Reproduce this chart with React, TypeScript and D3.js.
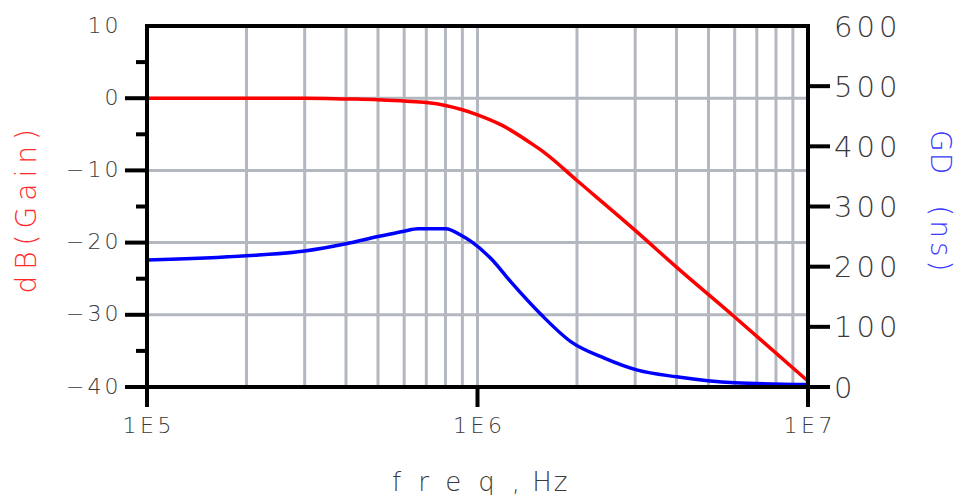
import React from "react";
import * as d3 from "d3";

// ---- data ----
const gainFreq = [1e5, 2e5, 3e5, 4e5, 5e5, 6e5, 7e5, 8e5, 9e5, 1e6, 1.18e6, 1.48e6, 1.59e6, 2e6, 3e6, 4e6, 6e6, 1e7];
const gainDb = [0, 0, 0, -0.1, -0.2, -0.4, -0.6, -1.0, -1.6, -2.3, -3.7, -6.5, -7.5, -11.4, -18.3, -23.4, -30.3, -39.2];
const gdFreq = [1e5, 2e5, 3e5, 4e5, 5e5, 6e5, 6.6e5, 8e5, 9e5, 9.56e5, 1.1e6, 1.26e6, 1.56e6, 1.92e6, 2.42e6, 3.05e6, 4e6, 6e6, 1e7];
const gdNs = [211, 218, 226, 238, 250, 259, 263, 263, 251, 242, 213, 175, 120, 75, 48, 28, 17, 7, 4];

const xTickValues = [1e5, 1e6, 1e7];
const xTickLabels = ["1E5", "1E6", "1E7"];
const leftTicks = [10, 0, -10, -20, -30, -40];
const leftMinorTicks = [5, -5, -15, -25, -35];
const rightTicks = [600, 500, 400, 300, 200, 100, 0];

const W = 957;
const H = 495;
const X0 = 147, X1 = 808, Y0 = 26, Y1 = 387;

const fmtLeft = (v: number) => (v < 0 ? "\u2212" + Math.abs(v) : String(v));

export default function App() {
  const x = d3.scaleLog().domain([1e5, 1e7]).range([X0, X1]);
  const yL = d3.scaleLinear().domain([-40, 10]).range([Y1, Y0]);
  const yR = d3.scaleLinear().domain([0, 600]).range([Y1, Y0]);

  const gridX: number[] = [];
  for (let dec = 1e5; dec < 1e7; dec *= 10) {
    for (let m = 2; m <= 10; m++) gridX.push(dec * m);
  }
  const gridX2 = gridX.filter((f) => f < 1e7 * 0.999);
  const gridY = [0, -10, -20, -30];

  const gainLine = d3
    .line<number>()
    .x((_, i) => x(gainFreq[i]))
    .y((d) => yL(d))
    .curve(d3.curveMonotoneX);
  const gdLine = d3
    .line<number>()
    .x((_, i) => x(gdFreq[i]))
    .y((d) => yR(d))
    .curve(d3.curveMonotoneX);

  const tickFont = "'DejaVu Sans', sans-serif";
  const tickFill = "#3a3a3a";
  const gridColor = "#b3b7bf";

  return (
    <svg
      width={W}
      height={H}
      style={{ position: "absolute", left: 0, top: 0, background: "#fff" }}
    >
      <rect x={0} y={0} width={W} height={H} fill="#fff" />
      {/* grid */}
      {gridX2.map((f) => (
        <line key={"gx" + f} x1={x(f)} x2={x(f)} y1={Y0} y2={Y1} stroke={gridColor} strokeWidth={3} />
      ))}
      {gridY.map((v) => (
        <line key={"gy" + v} x1={X0} x2={X1} y1={yL(v)} y2={yL(v)} stroke={gridColor} strokeWidth={3} />
      ))}

      {/* curves */}
      <path d={gdLine(gdNs) || ""} fill="none" stroke="#0000ff" strokeWidth={3.5} />
      <path d={gainLine(gainDb) || ""} fill="none" stroke="#ff0000" strokeWidth={3.5} />

      {/* frame */}
      <rect x={X0} y={Y0} width={X1 - X0} height={Y1 - Y0} fill="none" stroke="#000" strokeWidth={4} />

      {/* left ticks */}
      {leftTicks
        .filter((v) => v !== 10)
        .map((v) => (
          <line key={"lt" + v} x1={X0 - 22} x2={X0} y1={yL(v)} y2={yL(v)} stroke="#000" strokeWidth={4} />
        ))}
      {leftMinorTicks.map((v) => (
        <line key={"lm" + v} x1={X0 - 11} x2={X0} y1={yL(v)} y2={yL(v)} stroke="#000" strokeWidth={4} />
      ))}
      {leftTicks.map((v) => (
        <text
          key={"ll" + v}
          x={121.5}
          y={yL(v) + 6.5}
          textAnchor="end"
          fontFamily={tickFont}
          fontWeight={200}
          fontSize={22}
          letterSpacing={3}
          fill={tickFill}
        >
          {fmtLeft(v)}
        </text>
      ))}

      {/* right ticks */}
      {rightTicks
        .filter((v) => v !== 600)
        .map((v) => (
          <line key={"rt" + v} x1={X1} x2={X1 + 22} y1={yR(v)} y2={yR(v)} stroke="#000" strokeWidth={4} />
        ))}
      {rightTicks.map((v) => (
        <text
          key={"rl" + v}
          x={834}
          y={yR(v) + 10.5}
          textAnchor="start"
          fontFamily={tickFont}
          fontWeight={200}
          fontSize={29}
          letterSpacing={4}
          fill={tickFill}
        >
          {v}
        </text>
      ))}

      {/* bottom ticks */}
      {xTickValues.map((f, i) => (
        <g key={"bt" + f}>
          <line x1={x(f)} x2={x(f)} y1={Y1} y2={Y1 + 20} stroke="#000" strokeWidth={4} />
          <text
            x={x(f) + 1.75}
            y={433}
            textAnchor="middle"
            fontFamily={tickFont}
            fontWeight={200}
            fontSize={22}
            letterSpacing={3.5}
            fill={tickFill}
          >
            {xTickLabels[i]}
          </text>
        </g>
      ))}

      {/* x title */}
      <text x={392} y={490.5} fontFamily={tickFont} fontWeight={200} fontSize={26} fill={tickFill}>
        <tspan letterSpacing={17}>freq</tspan>
        <tspan letterSpacing={2}>{", Hz"}</tspan>
      </text>

      {/* left title */}
      <text
        transform="translate(35.5,293.5) rotate(-90)"
        fontFamily={tickFont}
        fontWeight={200}
        fontSize={28}
        letterSpacing={6}
        fill="#ff2a2a"
      >
        dB(Gain)
      </text>

      {/* right title */}
      <text
        transform="translate(931,130) rotate(90)"
        fontFamily={tickFont}
        fontWeight={200}
        fontSize={28}
        fill="#3a3aff"
      >
        <tspan letterSpacing={1}>GD</tspan>
        <tspan dx={30} letterSpacing={4}>(ns)</tspan>
      </text>
    </svg>
  );
}
